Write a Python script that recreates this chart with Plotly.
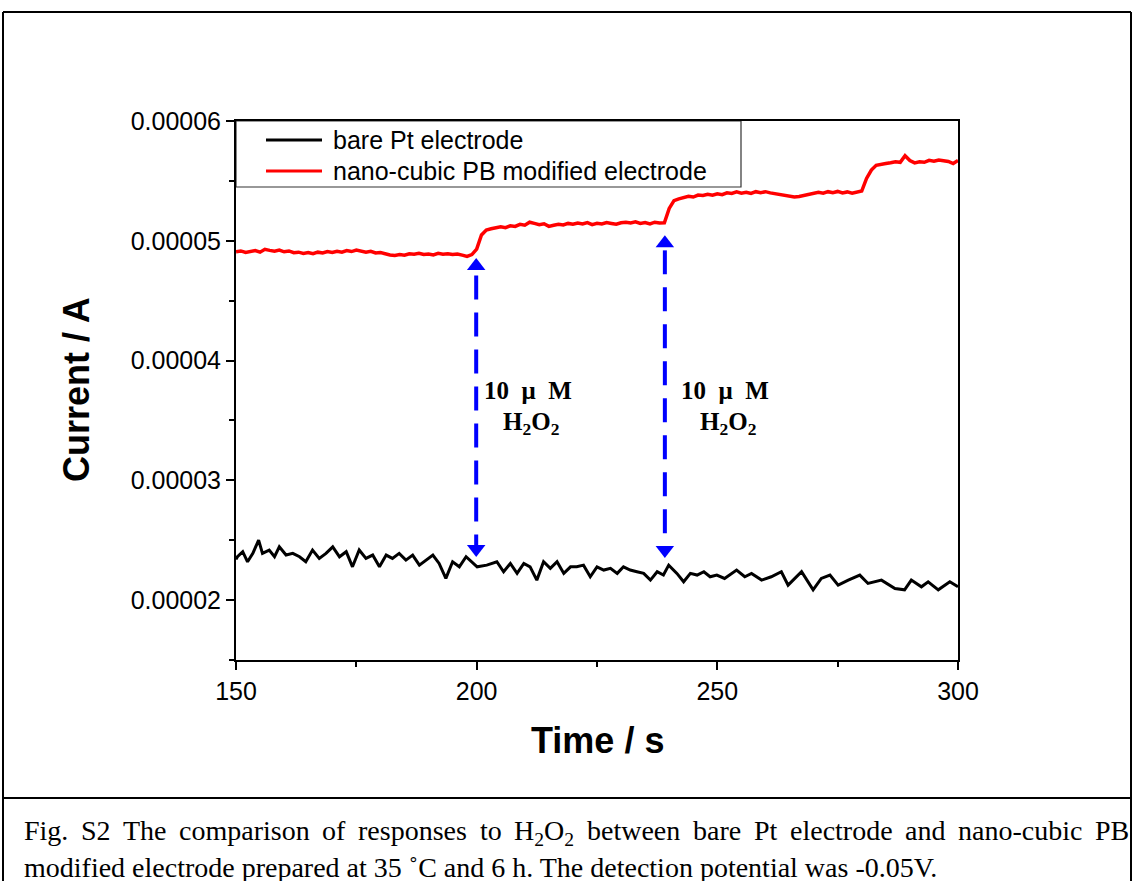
import plotly.graph_objects as go

# ---------------- data ----------------
red_t = list(range(150, 301))
red_uA = [
    49.08, 49.15, 49.02, 49.10, 49.18, 49.05, 49.29, 49.20, 49.12, 49.22, 49.08,
    49.15, 49.00, 49.05, 48.95, 49.02, 48.92, 49.05, 48.98, 49.10, 49.02,
    49.12, 49.05, 49.18, 49.10, 49.22, 49.15, 49.05, 49.12, 48.98, 49.02,
    48.90, 48.82, 48.78, 48.85, 48.80, 48.92, 48.88, 48.95, 48.85, 48.90,
    48.82, 48.95, 48.88, 48.92, 48.85, 48.90, 48.80, 48.70, 48.85,
    49.30, 50.48, 50.90, 51.00, 51.05, 51.17, 51.10, 51.25, 51.20, 51.37,
    51.30, 51.55, 51.45, 51.35, 51.42, 51.20, 51.30, 51.38, 51.32, 51.45,
    51.38, 51.48, 51.40, 51.52, 51.35, 51.46, 51.40, 51.52, 51.45, 51.38,
    51.50, 51.55, 51.48, 51.58, 51.45, 51.52, 51.40, 51.55, 51.48, 51.50,
    52.70, 53.35, 53.50, 53.60, 53.72, 53.65, 53.82, 53.78, 53.88, 53.80,
    53.92, 53.85, 54.01, 53.95, 54.08, 53.98, 54.05, 53.95, 54.10, 54.02,
    54.10, 54.00, 53.92, 53.85, 53.78, 53.72, 53.65, 53.70, 53.80, 53.90,
    53.95, 54.05, 53.98, 54.10, 54.02, 54.12, 54.00, 54.08, 53.98, 54.10,
    54.15, 55.20, 55.90, 56.30, 56.40, 56.45, 56.52, 56.60, 56.55, 57.10,
    56.70, 56.50, 56.60, 56.55, 56.72, 56.65, 56.75, 56.70, 56.62, 56.45,
    56.70,
]

black_t = [
    150.0, 150.3, 151.4, 152.4, 153.5, 154.7, 155.5, 156.9, 158.0, 159.0,
    160.4, 161.8, 163.2, 164.5, 165.9, 167.3, 168.7, 170.1, 171.5, 172.9,
    174.2, 175.6, 177.0, 178.4, 179.8, 181.2, 182.5, 183.9, 185.3, 186.7,
    188.1, 189.5, 190.9, 192.2, 193.6, 195.0, 196.4, 197.8, 199.2, 200.1,
    202.1, 204.2, 205.6, 207.0, 208.4, 209.8, 211.1, 212.5, 213.9, 215.3,
    216.7, 218.1, 219.5, 220.8, 222.2, 223.6, 225.0, 226.4, 227.8, 229.2,
    230.5, 231.9, 233.3, 234.7, 236.1, 237.5, 238.8, 239.9, 241.6, 243.0,
    244.4, 245.8, 247.2, 248.5, 249.9, 251.5, 254.0, 255.7, 257.1, 259.2,
    261.2, 263.3, 264.7, 267.5, 269.9, 271.6, 273.4, 275.1, 277.2, 279.6,
    281.3, 284.1, 286.9, 288.9, 290.3, 292.4, 293.8, 295.9, 298.3, 300.0,
]
black_uA = [
    23.40, 23.62, 24.04, 23.20, 23.90, 25.01, 23.90, 24.18, 23.62, 24.45,
    23.76, 23.90, 23.62, 23.20, 24.18, 23.48, 23.90, 24.45, 23.62, 24.04,
    22.78, 24.18, 23.48, 23.76, 22.78, 23.76, 23.48, 23.90, 23.34, 23.76,
    22.92, 23.34, 23.76, 23.06, 21.81, 23.20, 22.78, 23.62, 23.06, 22.78,
    22.92, 23.20, 22.37, 23.06, 22.23, 23.06, 22.78, 21.67, 23.20, 22.65,
    23.20, 22.23, 22.78, 22.78, 22.92, 21.95, 22.78, 22.51, 22.65, 22.23,
    22.78, 22.51, 22.37, 22.23, 21.67, 22.37, 22.09, 22.92, 22.23, 21.53,
    22.23, 22.09, 22.37, 21.95, 22.09, 21.81, 22.51, 21.95, 22.23, 21.67,
    21.95, 22.37, 21.25, 22.37, 20.86, 21.81, 22.09, 21.25, 21.67, 22.09,
    21.39, 21.67, 20.97, 20.86, 21.67, 21.11, 21.53, 20.86, 21.53, 21.11,
]

series_names = ["bare Pt electrode", "nano-cubic PB modified electrode"]
x_ticks = [150, 200, 250, 300]
y_ticks = [0.00002, 0.00003, 0.00004, 0.00005, 0.00006]
y_tick_labels = ["0.00002", "0.00003", "0.00004", "0.00005", "0.00006"]
injection_times = [199.9, 239.1]
arrow_top_uA = [47.9, 49.8]
arrow_bottom_uA = [24.26, 24.18]
line_top_uA = [47.1, 49.2]
line_bottom_uA = [24.6, 25.0]

caption_line1 = ["Fig.", "S2", "The", "comparison", "of", "responses", "to",
                 "H<sub>2</sub>O<sub>2</sub>", "between", "bare", "Pt", "electrode",
                 "and", "nano-cubic", "PB"]
caption_line2 = "modified electrode prepared at 35 ˚C and 6 h. The detection potential was -0.05V."

# ---------------- layout helpers ----------------
W, H = 1133, 881
L, R, T, B = 236, 958, 121, 660


def px(x):
    return (x - L) / (R - L)


def py(y):
    return (B - y) / (B - T)


fig = go.Figure()
fig.add_trace(go.Scatter(x=black_t, y=[v * 1e-6 for v in black_uA], mode="lines",
                         line=dict(color="black", width=3), name=series_names[0],
                         showlegend=False))
fig.add_trace(go.Scatter(x=red_t, y=[v * 1e-6 for v in red_uA], mode="lines",
                         line=dict(color="#ff0000", width=3.5), name=series_names[1],
                         showlegend=False))

# arrow heads
blue = "#0000ff"
fig.add_trace(go.Scatter(x=injection_times, y=[v * 1e-6 for v in arrow_top_uA], mode="markers",
                         marker=dict(symbol="triangle-up", size=16, color=blue),
                         showlegend=False, hoverinfo="skip"))
fig.add_trace(go.Scatter(x=injection_times, y=[v * 1e-6 for v in arrow_bottom_uA], mode="markers",
                         marker=dict(symbol="triangle-down", size=16, color=blue),
                         showlegend=False, hoverinfo="skip"))

shapes = []
for t, y0, y1 in zip(injection_times, line_top_uA, line_bottom_uA):
    shapes.append(dict(type="line", xref="x", yref="y", x0=t, x1=t, y0=y0 * 1e-6, y1=y1 * 1e-6,
                       line=dict(color=blue, width=4, dash="24px,13px")))

# custom legend
shapes.append(dict(type="rect", xref="paper", yref="paper", x0=px(236), x1=px(741),
                   y0=py(187), y1=py(121), line=dict(color="#333", width=1.2),
                   fillcolor="white", layer="below"))
for i, c in enumerate(["black", "#ff0000"]):
    yy = py(140 + 31 * i)
    shapes.append(dict(type="line", xref="paper", yref="paper", x0=px(266), x1=px(322),
                       y0=yy, y1=yy, line=dict(color=c, width=3)))

# page frame
frame = dict(color="black", width=2)
shapes += [
    dict(type="line", xref="paper", yref="paper", x0=px(3), x1=px(1131), y0=py(12), y1=py(12), line=frame),
    dict(type="line", xref="paper", yref="paper", x0=px(3), x1=px(3), y0=py(12), y1=py(885), line=frame),
    dict(type="line", xref="paper", yref="paper", x0=px(1131), x1=px(1131), y0=py(12), y1=py(885), line=frame),
    dict(type="line", xref="paper", yref="paper", x0=px(3), x1=px(1131), y0=py(798), y1=py(798), line=frame),
]

annotations = []
for i, name in enumerate(series_names):
    annotations.append(dict(text=name, xref="paper", yref="paper", x=px(331), y=py(140 + 31 * i),
                            xanchor="left", yanchor="middle", showarrow=False,
                            font=dict(family="Arial, Liberation Sans", size=25, color="black")))

serif = "Liberation Serif, Times New Roman"
for cx, cy in [(528, 531), (725, 728)]:
    annotations.append(dict(text="<b>10  μ  M</b>", xref="paper", yref="paper", x=px(cx), y=py(390),
                            xanchor="center", yanchor="middle", showarrow=False,
                            font=dict(family=serif, size=25, color="black")))
    annotations.append(dict(text="<b>H<sub>2</sub>O<sub>2</sub></b>", xref="paper", yref="paper",
                            x=px(cy), y=py(424), xanchor="center", yanchor="middle", showarrow=False,
                            font=dict(family=serif, size=25, color="black")))

# axis titles
annotations.append(dict(text="<b>Current / A</b>", xref="paper", yref="paper", x=px(76), y=py(390),
                        xanchor="center", yanchor="middle", textangle=-90, showarrow=False,
                        font=dict(family="Arial, Liberation Sans", size=36, color="black")))
annotations.append(dict(text="<b>Time / s</b>", xref="paper", yref="paper", x=px(597), y=py(740),
                        xanchor="center", yanchor="middle", showarrow=False,
                        font=dict(family="Arial, Liberation Sans", size=36, color="black")))

# caption: first line justified using Times metrics (Liberation Serif is metric compatible)
cap_size = 28
cap_font = dict(family=serif, size=cap_size, color="black")
times_w = {"F": 556, "i": 278, "g": 500, ".": 250, "S": 556, "2": 500, "T": 611, "h": 500,
           "e": 444, "c": 444, "o": 500, "m": 778, "p": 500, "a": 444, "r": 333, "s": 389,
           "n": 500, "f": 333, "t": 278, "H": 722, "O": 722, "b": 500, "w": 722, "P": 556,
           "l": 278, "d": 500, "u": 500, "-": 333, "B": 667}


def word_width(w):
    if "<sub>" in w:
        return (722 + 0.7 * 500 + 722 + 0.7 * 500) * cap_size / 1000
    return sum(times_w[ch] for ch in w) * cap_size / 1000


widths = [word_width(w) for w in caption_line1]
x_left, x_right = 22, 1127
gap = (x_right - x_left - sum(widths)) / (len(caption_line1) - 1)
xpos = x_left
for w, wd in zip(caption_line1, widths):
    annotations.append(dict(text=w, xref="paper", yref="paper", x=px(xpos), y=py(813),
                            xanchor="left", yanchor="top", showarrow=False, font=cap_font))
    xpos += wd + gap
annotations.append(dict(text=caption_line2, xref="paper", yref="paper", x=px(22), y=py(850),
                        xanchor="left", yanchor="top", showarrow=False, font=cap_font))

axis_common = dict(showline=True, linecolor="black", linewidth=2, mirror=True, showgrid=False,
                   zeroline=False, ticks="outside", ticklen=8, tickwidth=2, tickcolor="black",
                   tickfont=dict(family="Arial, Liberation Sans", size=25, color="black"))

fig.update_layout(
    width=W, height=H,
    margin=dict(l=L, r=W - R, t=T, b=H - B),
    paper_bgcolor="white", plot_bgcolor="white",
    showlegend=False,
    shapes=shapes,
    annotations=annotations,
    xaxis=dict(range=[150, 300], tickvals=x_ticks, **axis_common,
               minor=dict(dtick=25, tick0=150, ticks="outside", ticklen=5, tickwidth=2, tickcolor="black")),
    yaxis=dict(range=[0.000015, 0.00006], tickvals=y_ticks, ticktext=y_tick_labels, **axis_common,
               minor=dict(dtick=0.000005, tick0=0.000015, ticks="outside", ticklen=5, tickwidth=2, tickcolor="black")),
)

fig.write_html("out.html", config={"displayModeBar": False},
               post_script="document.body.style.margin='0';document.body.style.overflow='hidden';")
